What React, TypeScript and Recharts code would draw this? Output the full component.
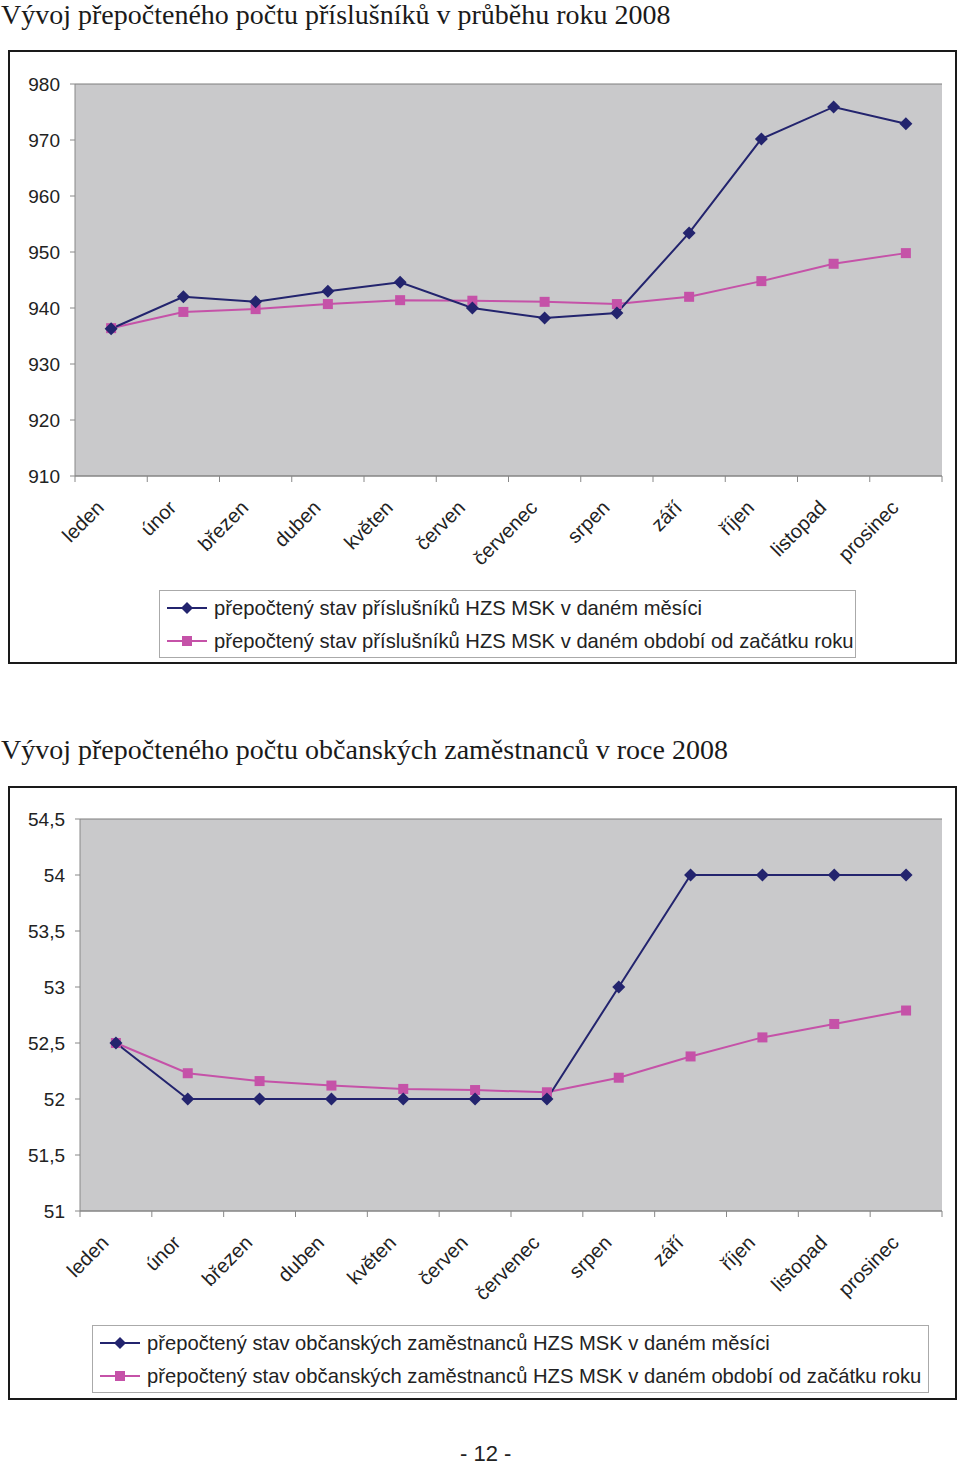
import { LineChart, Line, XAxis, YAxis, CartesianGrid } from "recharts";

const MONTHS = [
  "leden", "únor", "březen", "duben", "květen", "červen",
  "červenec", "srpen", "září", "říjen", "listopad", "prosinec",
];

// graf 1 – příslušníci
const MEMBERS_MONTH = [936.3, 942.0, 941.1, 943.0, 944.6, 940.0, 938.2, 939.1, 953.4, 970.2, 975.9, 972.9];
const MEMBERS_YTD = [936.4, 939.3, 939.8, 940.7, 941.4, 941.3, 941.1, 940.7, 942.0, 944.8, 947.9, 949.8];
const MEMBERS_TICKS = [910, 920, 930, 940, 950, 960, 970, 980];

// graf 2 – občanští zaměstnanci
const CIVIL_MONTH = [52.5, 52, 52, 52, 52, 52, 52, 53, 54, 54, 54, 54];
const CIVIL_YTD = [52.5, 52.23, 52.16, 52.12, 52.09, 52.08, 52.06, 52.19, 52.38, 52.55, 52.67, 52.79];
const CIVIL_TICKS = [51, 51.5, 52, 52.5, 53, 53.5, 54, 54.5];

const NAVY = "#23246e";
const PINK = "#c552a8";
const SANS = "'Liberation Sans', Arial, sans-serif";
const SERIF = "'Liberation Serif', 'Times New Roman', serif";

const CHART_W = 944;
const CHART_H = 609;

function Diamond({ cx, cy }: any) {
  if (cx == null || cy == null) return null;
  const r = 6.5;
  return (
    <path
      d={`M${cx},${cy - r}L${cx + r},${cy}L${cx},${cy + r}L${cx - r},${cy}Z`}
      fill={NAVY}
    />
  );
}

function Square({ cx, cy }: any) {
  if (cx == null || cy == null) return null;
  const s = 5;
  return <rect x={cx - s} y={cy - s} width={s * 2} height={s * 2} fill={PINK} />;
}

function makeTick(bandWidth: number, count: number) {
  return function MonthTick({ x, y, payload, index }: any) {
    const left = x - bandWidth / 2;
    const ax = x - 6;
    const ay = y + 33;
    return (
      <g>
        <line x1={left} y1={y} x2={left} y2={y + 6} stroke="#888" />
        {index === count - 1 && (
          <line x1={x + bandWidth / 2} y1={y} x2={x + bandWidth / 2} y2={y + 6} stroke="#888" />
        )}
        <text
          x={ax}
          y={ay}
          textAnchor="end"
          transform={`rotate(-45 ${ax} ${ay})`}
          fontSize={20}
          fontFamily={SANS}
          fill="#222"
        >
          {payload.value}
        </text>
      </g>
    );
  };
}

function LegendBox({ left, top, width, labels }: { left: number; top: number; width: number; labels: string[] }) {
  return (
    <div
      style={{
        position: "absolute",
        left,
        top,
        width,
        height: 68,
        border: "1px solid #aaa",
        background: "#fff",
        boxSizing: "border-box",
        fontFamily: SANS,
        fontSize: 20.2,
        color: "#222",
      }}
    >
      {labels.map((label, i) => (
        <div
          key={label}
          style={{ position: "absolute", left: 7, top: 3 + i * 33, height: 28, display: "flex", alignItems: "center", whiteSpace: "nowrap" }}
        >
          <svg width={40} height={14} style={{ marginRight: 7 }}>
            <line x1={0} y1={7} x2={40} y2={7} stroke={i === 0 ? NAVY : PINK} strokeWidth={2} />
            {i === 0 ? (
              <path d="M20,1L26,7L20,13L14,7Z" fill={NAVY} />
            ) : (
              <rect x={15} y={2} width={10} height={10} fill={PINK} />
            )}
          </svg>
          {label}
        </div>
      ))}
    </div>
  );
}

function MonthChart({
  monthly,
  ytd,
  ticks,
  domain,
  yWidth,
  plotTop,
  plotBottom,
  formatTick,
}: {
  monthly: number[];
  ytd: number[];
  ticks: number[];
  domain: [number, number];
  yWidth: number;
  plotTop: number;
  plotBottom: number;
  formatTick: (v: number) => string;
}) {
  const data = MONTHS.map((m, i) => ({ month: m, monthly: monthly[i], ytd: ytd[i] }));
  const rightMargin = 12;
  const plotWidth = CHART_W - yWidth - rightMargin;
  const Tick = makeTick(plotWidth / MONTHS.length, MONTHS.length);
  return (
    <LineChart
      width={CHART_W}
      height={CHART_H}
      data={data}
      margin={{ top: plotTop, right: rightMargin, left: 0, bottom: 0 }}
    >
      <CartesianGrid vertical={false} fill="#c9c9cb" stroke="#7e7e7e" strokeWidth={1.2} />
      <XAxis
        dataKey="month"
        scale="band"
        interval={0}
        height={CHART_H - plotBottom}
        axisLine={{ stroke: "#888" }}
        tickLine={false}
        tickSize={0}
        tickMargin={0}
        tick={<Tick />}
      />
      <YAxis
        yAxisId="l"
        domain={domain}
        ticks={ticks}
        width={yWidth}
        axisLine={{ stroke: "#888" }}
        tickLine={{ stroke: "#888" }}
        tickSize={5}
        tickMargin={10}
        tickFormatter={formatTick}
        tick={{ fontSize: 19, fontFamily: SANS, fill: "#222" }}
        allowDataOverflow
      />
      <YAxis yAxisId="r" orientation="right" width={0} tick={false} tickLine={false} axisLine={{ stroke: "#999" }} domain={domain} />
      <Line
        yAxisId="l"
        dataKey="ytd"
        stroke={PINK}
        strokeWidth={2}
        dot={<Square />}
        activeDot={false}
        isAnimationActive={false}
      />
      <Line
        yAxisId="l"
        dataKey="monthly"
        stroke={NAVY}
        strokeWidth={2}
        dot={<Diamond />}
        activeDot={false}
        isAnimationActive={false}
      />
    </LineChart>
  );
}

const boxStyle = (top: number): React.CSSProperties => ({
  position: "absolute",
  left: 8,
  top,
  width: 949,
  height: 614,
  border: "2px solid #1a1a1a",
  boxSizing: "border-box",
  background: "#fff",
});

const titleStyle = (top: number): React.CSSProperties => ({
  position: "absolute",
  left: 1,
  top,
  fontFamily: SERIF,
  fontSize: 28,
  color: "#1a1a1a",
  whiteSpace: "nowrap",
  lineHeight: "30px",
});

export default function App() {
  return (
    <div style={{ position: "relative", width: 960, height: 1467, background: "#fff", overflow: "hidden" }}>
      <style>{`html,body{margin:0;padding:0;overflow:hidden}`}</style>
      <div style={titleStyle(0)}>Vývoj přepočteného počtu příslušníků v průběhu roku 2008</div>
      <div style={boxStyle(50)}>
        <MonthChart
          monthly={MEMBERS_MONTH}
          ytd={MEMBERS_YTD}
          ticks={MEMBERS_TICKS}
          domain={[910, 980]}
          yWidth={65}
          plotTop={32}
          plotBottom={424}
          formatTick={(v) => String(v)}
        />
      </div>
      <LegendBox
        left={159}
        top={590}
        width={697}
        labels={[
          "přepočtený stav příslušníků HZS MSK v daném měsíci",
          "přepočtený stav příslušníků HZS MSK v daném období od začátku roku",
        ]}
      />

      <div style={titleStyle(735)}>Vývoj přepočteného počtu občanských zaměstnanců v roce 2008</div>
      <div style={boxStyle(786)}>
        <MonthChart
          monthly={CIVIL_MONTH}
          ytd={CIVIL_YTD}
          ticks={CIVIL_TICKS}
          domain={[51, 54.5]}
          yWidth={70}
          plotTop={31}
          plotBottom={423}
          formatTick={(v) => String(v).replace(".", ",")}
        />
      </div>
      <LegendBox
        left={92}
        top={1325}
        width={837}
        labels={[
          "přepočtený stav občanských zaměstnanců HZS MSK v daném měsíci",
          "přepočtený stav občanských zaměstnanců HZS MSK v daném období od začátku roku",
        ]}
      />

      <div
        style={{
          position: "absolute",
          left: 460,
          top: 1443,
          fontFamily: SANS,
          fontSize: 22,
          lineHeight: "22px",
          color: "#222",
          whiteSpace: "nowrap",
        }}
      >
        - 12 -
      </div>
    </div>
  );
}
